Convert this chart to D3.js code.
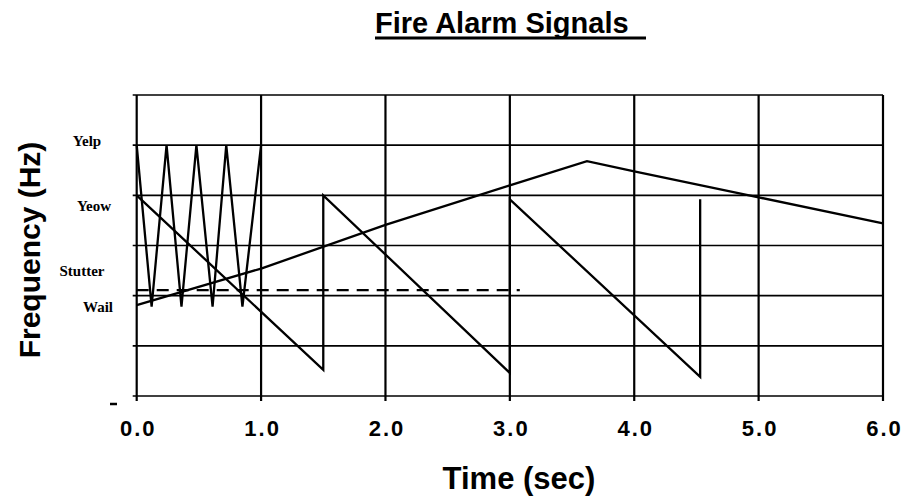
<!DOCTYPE html>
<html>
<head>
<meta charset="utf-8">
<script src="https://cdn.jsdelivr.net/npm/d3@7"></script>
<style>
  body { margin: 0; background: #fff; }
  svg { display: block; }
</style>
</head>
<body>
<script>
// ---- data (time in sec, frequency in grid units 0..6) ----
var xTicks = [0, 1, 2, 3, 4, 5, 6];
var yGrid = [0, 1, 2, 3, 4, 5, 6];

var yelpTime = [0, 0.12, 0.24, 0.36, 0.48, 0.61, 0.72, 0.85, 1.0];
var yelpFreq = [5, 1.78, 5, 1.78, 5, 1.78, 5, 1.78, 5];

var yeowTime = [0, 1.5, 1.5, 3.0, 3.0, 4.53, 4.53];
var yeowFreq = [4.0, 0.52, 4.0, 0.46, 3.92, 0.38, 3.92];

var wailTime = [0, 1, 2, 3, 3.62, 4, 5, 6];
var wailFreq = [1.81, 2.54, 3.41, 4.2, 4.68, 4.48, 3.96, 3.44];

var stutterTime = [0, 3.08];
var stutterFreq = [2.11, 2.11];

var signalNames = ["Yelp", "Yeow", "Stutter", "Wail"];
var signalLabelAt = [5.08, 3.8, 2.5, 1.78];    // y value where each name sits
var signalLabelX = [87, 94, 82, 98];           // label centre, px

var width = 907, height = 497;
var margin = {left: 136.7, top: 95, right: 24, bottom: 101};

var svg = d3.select("body").append("svg")
  .attr("width", width)
  .attr("height", height);

var x = d3.scaleLinear().domain([0, 6]).range([margin.left, width - margin.right]);
var y = d3.scaleLinear().domain([0, 6]).range([height - margin.bottom, margin.top]);

// title with underline
svg.append("text")
  .attr("x", 375).attr("y", 33)
  .attr("font-family", "Liberation Sans, Arial, sans-serif")
  .attr("font-weight", "bold")
  .attr("font-size", 29)
  .text("Fire Alarm Signals");
svg.append("line")
  .attr("x1", 375).attr("x2", 646)
  .attr("y1", 38).attr("y2", 38)
  .attr("stroke", "#000").attr("stroke-width", 3);

// grid
var grid = svg.append("g").attr("stroke", "#000");
grid.selectAll(".h").data(yGrid).enter().append("line")
  .attr("class", "h")
  .attr("x1", x(0) - 4).attr("x2", x(6))
  .attr("y1", d => y(d)).attr("y2", d => y(d))
  .attr("stroke-width", 1.7);
grid.selectAll(".v").data(xTicks).enter().append("line")
  .attr("class", "v")
  .attr("x1", d => x(d)).attr("x2", d => x(d))
  .attr("y1", y(6)).attr("y2", y(0) + 5)
  .attr("stroke-width", 2.2);

// x tick labels through the axis
var xAxis = svg.append("g")
  .attr("transform", "translate(0," + y(0) + ")")
  .call(d3.axisBottom(x).tickValues(xTicks).tickFormat(d3.format(".1f")).tickSize(0).tickPadding(24));
xAxis.select(".domain").remove();
xAxis.selectAll("text")
  .attr("font-family", "Liberation Sans, Arial, sans-serif")
  .attr("font-weight", "bold")
  .attr("font-size", 22)
  .attr("letter-spacing", 2)
  .attr("dx", 1)
  .attr("fill", "#000");

// stray left tick
svg.append("line")
  .attr("x1", 110).attr("x2", 117)
  .attr("y1", y(0) + 8).attr("y2", y(0) + 8)
  .attr("stroke", "#000").attr("stroke-width", 2.5);

// signal names on the y side
svg.selectAll(".sig").data(signalNames).enter().append("text")
  .attr("class", "sig")
  .attr("x", (d, i) => signalLabelX[i])
  .attr("y", (d, i) => y(signalLabelAt[i]))
  .attr("dy", "0.35em")
  .attr("text-anchor", "middle")
  .attr("font-family", "Liberation Serif, Times New Roman, serif")
  .attr("font-weight", "bold")
  .attr("font-size", 15)
  .text(d => d);

// axis titles
svg.append("text")
  .attr("transform", "translate(40,250) rotate(-90)")
  .attr("text-anchor", "middle")
  .attr("font-family", "Liberation Sans, Arial, sans-serif")
  .attr("font-weight", "bold")
  .attr("font-size", 30)
  .text("Frequency (Hz)");
svg.append("text")
  .attr("x", 519).attr("y", 489)
  .attr("text-anchor", "middle")
  .attr("font-family", "Liberation Sans, Arial, sans-serif")
  .attr("font-weight", "bold")
  .attr("font-size", 31)
  .text("Time (sec)");

// signals
var line = d3.line().x(d => x(d[0])).y(d => y(d[1]));
function pairs(t, f) { return t.map((v, i) => [v, f[i]]); }

var series = [
  {pts: pairs(yelpTime, yelpFreq), dash: null},
  {pts: pairs(yeowTime, yeowFreq), dash: null},
  {pts: pairs(wailTime, wailFreq), dash: null},
  {pts: pairs(stutterTime, stutterFreq), dash: "12,8"}
];
svg.selectAll(".signal").data(series).enter().append("path")
  .attr("class", "signal")
  .attr("d", d => line(d.pts))
  .attr("fill", "none")
  .attr("stroke", "#000")
  .attr("stroke-width", 2.3)
  .attr("stroke-linejoin", "miter")
  .attr("stroke-dasharray", d => d.dash);
</script>
</body>
</html>
